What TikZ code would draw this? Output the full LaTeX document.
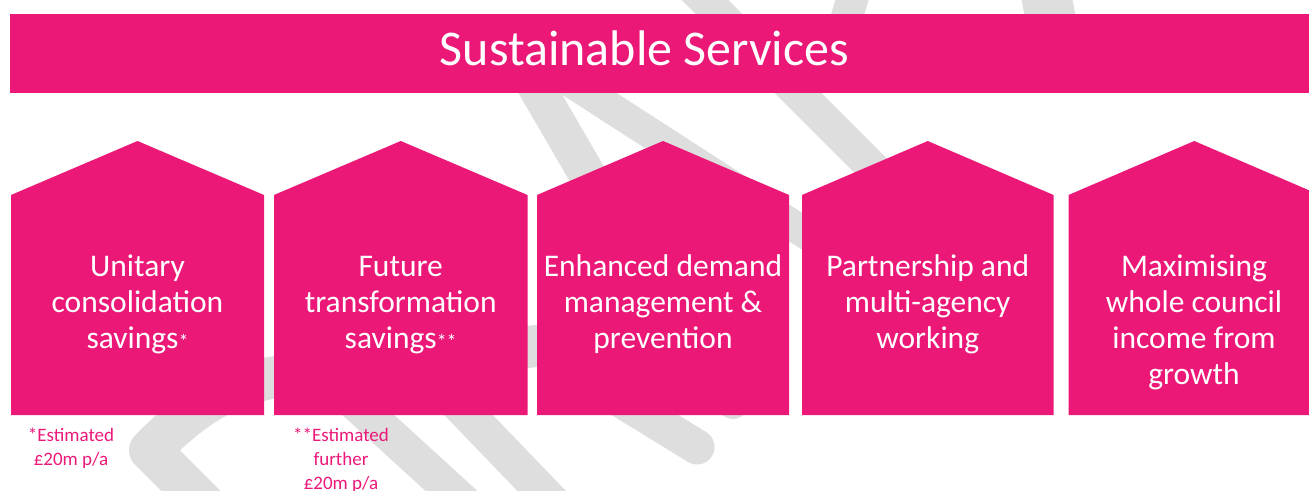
\documentclass[tikz,border=0pt]{standalone}
\usepackage{fontspec}
\setmainfont{Carlito}
\definecolor{brandpink}{HTML}{EB1878}
\definecolor{logogrey}{HTML}{DEDEDE}
% pentagon "house": left x, right x
\newcommand{\drawhouse}[2]{%
  \fill[brandpink] (#1,415) -- (#1,195) -- ({(#1+#2)/2},141) -- (#2,195) -- (#2,415) -- cycle;}
\begin{document}
\begin{tikzpicture}[x=1pt,y=-1pt,
  band/.style={draw=logogrey, line cap=round, line join=round},
  housetext/.style={text=white, align=center, inner sep=0pt, anchor=base,
    font=\fontsize{31.5}{36}\selectfont},
  note/.style={text=brandpink, align=center, inner sep=0pt, anchor=base,
    font=\fontsize{19}{24}\selectfont}]
\useasboundingbox (0,0) rectangle (1309,490);
\clip (0,0) rectangle (1309,490);

% light grey logo strokes in the background
\draw[band, line width=33] (690,-15) -- (910,205);
\draw[band, line width=32] (855,-10) -- (840,40);
\draw[band, line width=50] (1045,-10) -- (1055,40);
\draw[band, line width=37] (509,40) -- (602,200);
\draw[band, line width=31] (537,60) -- (893,290);
\draw[band, line width=42] (570,342) -- (290,375)
  .. controls (230,382) and (195,405) .. (150,450) -- (265,565);
\draw[band, line width=35] (330,380) -- (480,517);
\draw[band, line width=35] (430,375) -- (560,510);
\draw[band, line width=35] (601,388) -- (697,447);
\draw[band, line width=30] (700,385) -- (733,404);

% title banner
\fill[brandpink] (10,14) rectangle (1320,93.3);
\node[text=white, inner sep=0pt, anchor=base, font=\fontsize{50}{60}\selectfont]
  (title) at (644.5,65) {Sustainable Services};

% the five houses
\drawhouse{11}{264}
\drawhouse{274}{527.5}
\drawhouse{537}{789}
\drawhouse{802}{1053.5}
\drawhouse{1068.5}{1320}

% multi-line nodes sit on the baseline of their last line
\node[housetext] (h1) at (137.5,348)
  {Unitary\\consolidation\\savings{\fontsize{20}{20}\selectfont*}};
\node[housetext] (h2) at (400.7,348)
  {Future\\transformation\\savings{\fontsize{20}{20}\selectfont**}};
\node[housetext] (h3) at (663,348) {Enhanced demand\\management \&\\prevention};
\node[housetext] (h4) at (927.7,348) {Partnership and\\multi-agency\\working};
\node[housetext] (h5) at (1194,384) {Maximising\\whole council\\income from\\growth};

% footnotes
\node[note] (n1) at (71,465) {*Estimated\\£20m p/a};
\node[note] (n2) at (341,489) {**Estimated\\further\\£20m p/a};
\end{tikzpicture}
\end{document}
